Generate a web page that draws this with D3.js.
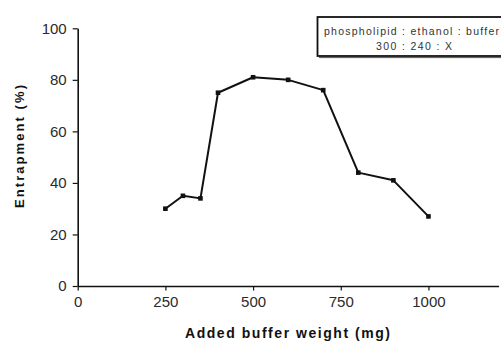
<!DOCTYPE html>
<html>
<head>
<meta charset="utf-8">
<script src="https://cdn.jsdelivr.net/npm/d3@7"></script>
<style>
  html, body { margin: 0; padding: 0; background: #fff; }
  svg { display: block; }
  text { font-family: "Liberation Sans", Arial, sans-serif; }
</style>
</head>
<body>
<svg id="chart" width="501" height="342"></svg>
<script>
// Buffer weight added (mg) and resulting entrapment (%)
const bufferWeight = [250, 300, 350, 400, 500, 600, 700, 800, 900, 1000];
const entrapment   = [30, 35, 34, 75, 81, 80, 76, 44, 41, 27];
const xTicks = [0, 250, 500, 750, 1000];
const yTicks = [0, 20, 40, 60, 80, 100];
const legendLines = ["phospholipid : ethanol : buffer", "300 : 240 : X"];

const svg = d3.select("#chart");
const ink = "#111";

const x = d3.scaleLinear().domain([0, 1200]).range([77.7, 498.6]);
const y = d3.scaleLinear().domain([0, 100]).range([286, 28.3]);

// x axis
const xAxis = svg.append("g")
  .attr("transform", `translate(0,${y(0)})`)
  .call(d3.axisBottom(x).tickValues(xTicks).tickFormat(d3.format("d"))
    .tickSize(4.5).tickPadding(6).tickSizeOuter(0));
xAxis.select(".domain").attr("stroke", ink).attr("stroke-width", 1.6);
xAxis.selectAll(".tick line").attr("stroke", ink).attr("stroke-width", 1.2);
xAxis.selectAll(".tick text").attr("fill", "#2a2a2a").attr("font-size", 15);

// y axis
const yAxis = svg.append("g")
  .attr("transform", `translate(${x(0)},0)`)
  .call(d3.axisLeft(y).tickValues(yTicks).tickSize(5).tickPadding(6).tickSizeOuter(0));
yAxis.select(".domain").attr("stroke", ink).attr("stroke-width", 1.6);
yAxis.selectAll(".tick line").attr("stroke", ink).attr("stroke-width", 1.2);
yAxis.selectAll(".tick text").attr("fill", "#2a2a2a").attr("font-size", 15);

// axis titles
svg.append("text")
  .attr("x", 185).attr("y", 337.5)
  .attr("font-size", 14).attr("font-weight", "bold")
  .attr("textLength", 205).attr("lengthAdjust", "spacing")
  .attr("fill", "#111")
  .text("Added buffer weight (mg)");

svg.append("text")
  .attr("transform", "translate(24,208) rotate(-90)")
  .attr("font-size", 13).attr("font-weight", "bold")
  .attr("textLength", 123).attr("lengthAdjust", "spacing")
  .attr("fill", "#111")
  .text("Entrapment (%)");

// data line and markers
const pts = bufferWeight.map((w, i) => [w, entrapment[i]]);
svg.append("path")
  .datum(pts)
  .attr("fill", "none")
  .attr("stroke", ink)
  .attr("stroke-width", 2)
  .attr("stroke-linejoin", "round")
  .attr("d", d3.line().x(d => x(d[0])).y(d => y(d[1])));

svg.selectAll("rect.pt")
  .data(pts)
  .join("rect")
  .attr("class", "pt")
  .attr("x", d => x(d[0]) - 2.3)
  .attr("y", d => y(d[1]) - 2.3)
  .attr("width", 4.6).attr("height", 4.6)
  .attr("fill", ink);

// legend box, running off the right edge
const lg = svg.append("g");
lg.append("rect")
  .attr("x", 317.5).attr("y", 17)
  .attr("width", 200).attr("height", 39)
  .attr("fill", "#fff")
  .attr("stroke", ink).attr("stroke-width", 1.8);
lg.append("line")
  .attr("x1", 319).attr("x2", 501).attr("y1", 57.6).attr("y2", 57.6)
  .attr("stroke", "#555").attr("stroke-width", 1);
lg.selectAll("text")
  .data(legendLines)
  .join("text")
  .attr("x", (d, i) => i === 0 ? 324 : 376)
  .attr("y", (d, i) => i === 0 ? 35 : 49.5)
  .attr("font-size", 10.5)
  .attr("textLength", (d, i) => i === 0 ? 175 : 76)
  .attr("lengthAdjust", "spacing")
  .attr("fill", "#333")
  .text(d => d);
</script>
</body>
</html>
